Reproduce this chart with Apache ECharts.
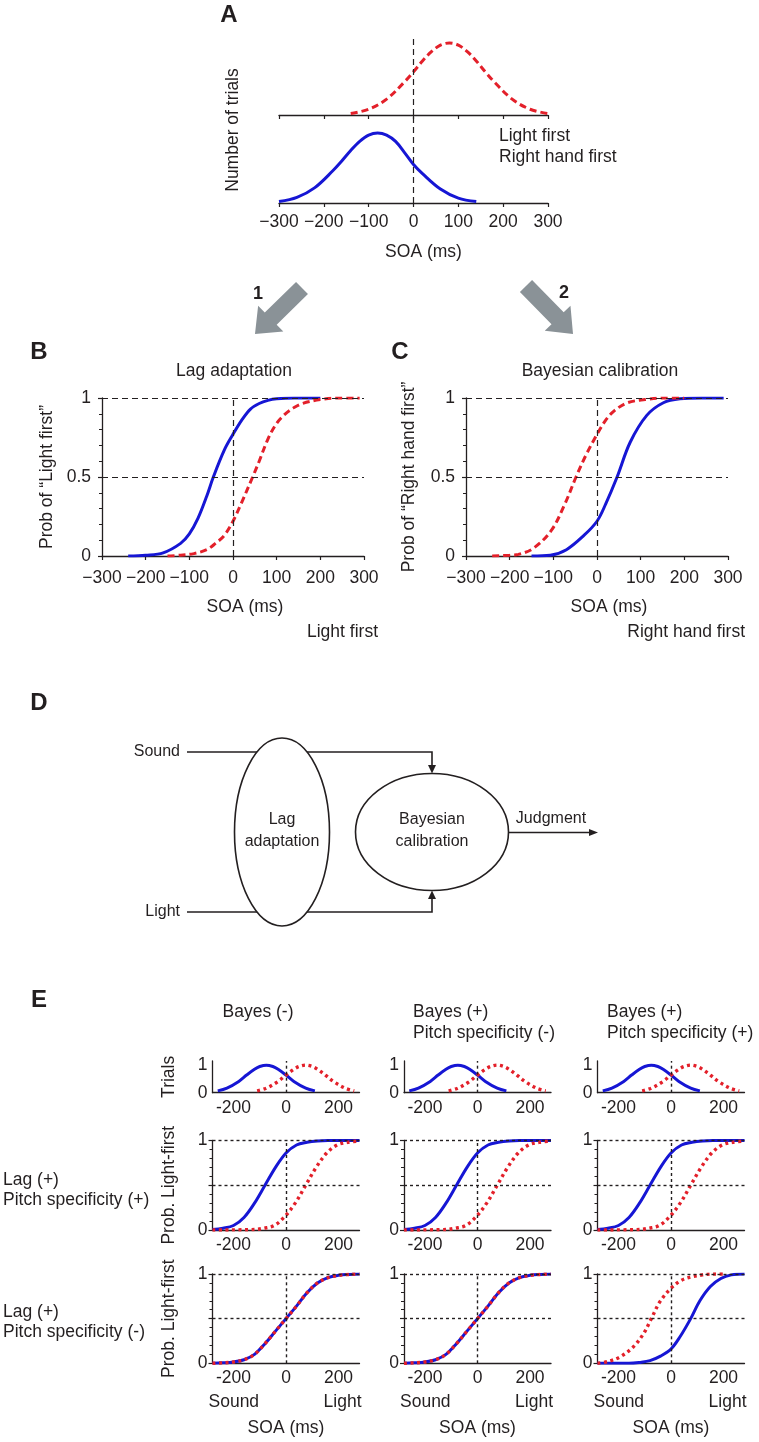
<!DOCTYPE html>
<html lang="en">
<head>
<meta charset="UTF-8">
<title>Lag adaptation vs Bayesian calibration</title>
<script src="https://cdn.jsdelivr.net/npm/echarts@6.0.0/dist/echarts.min.js"></script>
<style>
  html, body { margin: 0; padding: 0; background: #fff; }
  #main { width: 759px; height: 1442px; }
</style>
</head>
<body>
<div id="main"></div>
<script type="text/javascript">
// ---- values (x = SOA in ms, y = normalised value) ----
var soaTicksBig = [-300, -200, -100, 0, 100, 200, 300];
var soaTicksSmall = [-200, 0, 200];
var probTicksSmall = [0, 1];

// A: trial distributions
var distRedA = [[-140,0.02],[-100,0.08],[-60,0.22],[-20,0.46],[0,0.6],[20,0.75],[40,0.88],[60,0.97],[80,1],[100,0.97],[120,0.88],[140,0.75],[160,0.6],[180,0.46],[220,0.22],[260,0.08],[300,0.02]];
var distBlueA = [[-300,0.02],[-260,0.08],[-220,0.22],[-180,0.46],[-160,0.6],[-140,0.75],[-120,0.88],[-100,0.97],[-80,1],[-60,0.97],[-40,0.88],[-20,0.72],[0,0.55],[20,0.42],[60,0.2],[100,0.07],[140,0.02]];

// B: lag adaptation
var lagBlueB = [[-240,0],[-200,0.005],[-160,0.02],[-120,0.08],[-100,0.14],[-80,0.24],[-60,0.38],[-45,0.5],[-20,0.67],[0,0.77],[20,0.86],[40,0.93],[60,0.965],[80,0.985],[100,0.995],[140,1],[200,1]];
var lagRedB = [[-150,0],[-120,0.005],[-90,0.015],[-60,0.04],[-40,0.08],[-20,0.13],[0,0.22],[20,0.34],[45,0.5],[60,0.6],[80,0.74],[100,0.84],[120,0.9],[140,0.94],[160,0.966],[200,0.99],[240,1],[290,1]];

// C: Bayesian calibration
var bayesRedC = [[-240,0],[-200,0.005],[-180,0.01],[-145,0.05],[-105,0.16],[-75,0.32],[-48,0.5],[-25,0.64],[0,0.77],[20,0.86],[40,0.92],[70,0.97],[110,0.99],[150,1],[200,1]];
var bayesBlueC = [[-150,0],[-107,0.005],[-70,0.04],[-30,0.13],[0,0.22],[20,0.33],[46,0.5],[76,0.72],[114,0.89],[152,0.97],[190,0.995],[240,1],[290,1]];

// E: simulations
var trialsBlueE = [[-260,0.065],[-225,0.165],[-180,0.41],[-150,0.64],[-120,0.85],[-100,0.95],[-75,1],[-50,0.95],[-30,0.85],[0,0.64],[30,0.41],[75,0.165],[110,0.065]];
var trialsRedE = [[-110,0.065],[-75,0.165],[-30,0.41],[0,0.64],[30,0.85],[50,0.95],[75,1],[100,0.95],[120,0.85],[150,0.64],[180,0.41],[225,0.165],[260,0.065]];
var pitchPlusBlue = [[-280,0.005],[-240,0.02],[-200,0.05],[-160,0.14],[-120,0.3],[-80,0.5],[-40,0.7],[0,0.86],[40,0.95],[80,0.98],[120,0.995],[160,1],[280,1]];
var pitchPlusRed = [[-280,0],[-120,0.005],[-85,0.02],[-45,0.05],[-5,0.15],[35,0.3],[75,0.5],[115,0.7],[155,0.86],[195,0.95],[235,0.98],[280,0.995]];
var pitchMinusBoth = [[-280,0],[-240,0.005],[-200,0.015],[-160,0.04],[-120,0.1],[-80,0.22],[-40,0.36],[0,0.5],[40,0.64],[80,0.79],[120,0.9],[160,0.96],[200,0.985],[240,0.995],[280,1]];
var bayesPitchRed = [[-280,0],[-240,0.02],[-195,0.07],[-145,0.18],[-105,0.33],[-75,0.5],[-42,0.69],[0,0.84],[40,0.93],[80,0.97],[120,0.99],[160,1],[200,1]];
var bayesPitchBlue = [[-280,0],[-160,0],[-120,0.01],[-80,0.03],[-40,0.08],[0,0.16],[35,0.3],[75,0.5],[110,0.7],[150,0.86],[190,0.95],[230,0.99],[280,1]];

var FONT = 'Liberation Sans, Arial, Helvetica, sans-serif';
var INK = '#231f20';
var BLUE = '#1616d4';
var RED = '#e3202a';

var grids = [], xAxes = [], yAxes = [], series = [], graphics = [];

function minus(v) { return v < 0 ? '\u2212' + Math.abs(v) : String(v); }

function panel(c) {
    var i = grids.length;
    grids.push({ left: c.left, top: c.top, width: c.width, height: c.height, outerBoundsMode: 'none' });
    xAxes.push({
        type: 'value', gridIndex: i, min: c.xmin, max: c.xmax, interval: c.xint,
        axisLine: { show: true, onZero: false, lineStyle: { color: INK, width: 1.3 } },
        axisTick: { show: c.xTick !== false, length: 4, lineStyle: { color: INK, width: 1.2 } },
        axisLabel: {
            show: c.xLabel !== false, color: INK, fontSize: c.fs, fontFamily: FONT, margin: c.xMargin,
            customValues: c.xLabels, formatter: c.xFmt || minus, hideOverlap: false
        },
        splitLine: { show: false },
        name: c.xName || '', nameLocation: 'middle', nameGap: c.xNameGap,
        nameTextStyle: { color: INK, fontSize: c.fs, fontFamily: FONT, padding: c.xNamePad || 0 }
    });
    yAxes.push({
        type: 'value', gridIndex: i, min: c.ymin, max: c.ymax, interval: c.yint, show: c.yShow !== false,
        axisLine: { show: true, onZero: false, lineStyle: { color: INK, width: 1.3 } },
        axisTick: { show: c.yTick !== false, length: 4, lineStyle: { color: INK, width: 1.2 } },
        minorTick: { show: !!c.yMinor, splitNumber: 5, length: 3, lineStyle: { color: INK, width: 1 } },
        axisLabel: {
            show: true, color: INK, fontSize: c.fs, fontFamily: FONT, margin: c.yMargin,
            customValues: c.yLabels
        },
        splitLine: { show: false },
        name: c.yName || '', nameLocation: 'middle', nameGap: c.yNameGap, nameRotate: 90,
        nameTextStyle: { color: INK, fontSize: c.fs, fontFamily: FONT }
    });
    return i;
}

function refs(gi, ys, xs, dash, w) {
    var d = [];
    ys.forEach(function (v) { d.push({ yAxis: v }); });
    xs.forEach(function (v) { d.push({ xAxis: v }); });
    series.push({
        type: 'line', xAxisIndex: gi, yAxisIndex: gi, data: [], z: 1, silent: true,
        markLine: {
            silent: true, symbol: ['none', 'none'], label: { show: false }, animation: false,
            lineStyle: { color: INK, width: w || 1.2, type: dash }, emphasis: { disabled: true },
            data: d
        }
    });
}

function curve(gi, data, color, dash, w) {
    series.push({
        type: 'line', xAxisIndex: gi, yAxisIndex: gi, data: data, symbol: 'none', showSymbol: false,
        smooth: 0.35, silent: true, z: color === RED ? 4 : 3,
        lineStyle: { color: color, width: w || 3, type: dash, cap: 'butt' }
    });
}

function text(x, y, s, o) {
    o = o || {};
    graphics.push({
        type: 'text', x: x, y: y, rotation: o.rot || 0, z: 10, silent: true,
        style: {
            text: s, fill: INK, fontSize: o.fs || 17.5, fontFamily: FONT, fontWeight: o.bold ? 'bold' : 'normal',
            align: o.align || 'left', verticalAlign: 'middle'
        }
    });
}

// ---------- Panel A ----------
var a1 = panel({ left: 279, top: 37, width: 269, height: 78, xmin: -300, xmax: 300, xint: 100, xLabel: false,
    ymin: 0, ymax: 1.083, yShow: false, fs: 17.5 });
var a2 = panel({ left: 279, top: 115, width: 269, height: 88, xmin: -300, xmax: 300, xint: 100, xMargin: 10,
    xName: 'SOA (ms)', xNameGap: 40, xNamePad: [0, 0, 0, 20],
    ymin: 0, ymax: 1.257, yShow: false, fs: 17.5 });
refs(a1, [], [0], [6, 4]);
refs(a2, [], [0], [6, 4]);
curve(a1, distRedA, RED, [7, 4]);
curve(a2, distBlueA, BLUE, 'solid');

// ---------- Panel B ----------
var b = panel({ left: 102, top: 398, width: 262, height: 158, xmin: -300, xmax: 300, xint: 100, xMargin: 13,
    xName: 'SOA (ms)', xNameGap: 42, xNamePad: [0, 0, 0, 24],
    ymin: 0, ymax: 1, yint: 0.5, yMinor: true, yMargin: 11,
    yName: 'Prob of \u201cLight first\u201d', yNameGap: 46, fs: 17.5 });
refs(b, [1, 0.5], [0], [6, 4]);
curve(b, lagBlueB, BLUE, 'solid');
curve(b, lagRedB, RED, [7, 4]);

// ---------- Panel C ----------
var cc = panel({ left: 466, top: 398, width: 262, height: 158, xmin: -300, xmax: 300, xint: 100, xMargin: 13,
    xName: 'SOA (ms)', xNameGap: 42, xNamePad: [0, 0, 0, 24],
    ymin: 0, ymax: 1, yint: 0.5, yMinor: true, yMargin: 11,
    yName: 'Prob of \u201cRight hand first\u201d', yNameGap: 48, fs: 17.5 });
refs(cc, [1, 0.5], [0], [6, 4]);
curve(cc, bayesBlueC, BLUE, 'solid');
curve(cc, bayesRedC, RED, [7, 4]);

// ---------- Panel E ----------
var colLeft = [212.5, 404, 597.5];
var rowTop = [1061, 1140.5, 1274];
var rowH = [31.7, 89.5, 89.3];
var rowCurves = [
    [[trialsBlueE, trialsRedE], [trialsBlueE, trialsRedE], [trialsBlueE, trialsRedE]],
    [[pitchPlusBlue, pitchPlusRed], [pitchPlusBlue, pitchPlusRed], [pitchPlusBlue, pitchPlusRed]],
    [[pitchMinusBoth, pitchMinusBoth], [pitchMinusBoth, pitchMinusBoth], [bayesPitchBlue, bayesPitchRed]]
];
for (var r = 0; r < 3; r++) {
    for (var k = 0; k < 3; k++) {
        var cfg = {
            left: colLeft[k], top: rowTop[r], width: 147, height: rowH[r],
            xmin: -280, xmax: 280, xTick: false, xLabels: soaTicksSmall, xMargin: 6,
            xFmt: function (v) { return String(v); },
            ymin: 0, ymax: r === 0 ? 1.15 : 1, yint: r === 0 ? 1 : 0.5, yLabels: probTicksSmall,
            yTick: r !== 0, yMinor: r !== 0, yMargin: 5, fs: 17.5
        };
        if (k === 0) { cfg.yName = r === 0 ? 'Trials' : 'Prob. Light-first'; cfg.yNameGap = 34; }
        if (r === 2) { cfg.xName = 'SOA (ms)'; cfg.xNameGap = 56; }
        var g = panel(cfg);
        refs(g, r === 0 ? [] : [1, 0.5], [0], [3, 3], 1.4);
        curve(g, rowCurves[r][k][0], BLUE, 'solid', 3);
        curve(g, rowCurves[r][k][1], RED, [3, 3.5], 3.4);
    }
}

// ---------- free text ----------
text(229, 15, 'A', { bold: true, fs: 24, align: 'center' });
text(233, 130, 'Number of trials', { rot: Math.PI / 2, align: 'center' });
text(499, 136, 'Light first');
text(499, 157, 'Right hand first');
text(258, 294, '1', { bold: true, fs: 18, align: 'center' });
text(564, 293, '2', { bold: true, fs: 18, align: 'center' });
text(39, 352, 'B', { bold: true, fs: 24, align: 'center' });
text(400, 352, 'C', { bold: true, fs: 24, align: 'center' });
text(234, 371, 'Lag adaptation', { align: 'center' });
text(600, 371, 'Bayesian calibration', { align: 'center' });
text(378, 632, 'Light first', { align: 'right' });
text(745, 632, 'Right hand first', { align: 'right' });

text(39, 703, 'D', { bold: true, fs: 24, align: 'center' });
text(180, 752, 'Sound', { fs: 16, align: 'right' });
text(180, 912, 'Light', { fs: 16, align: 'right' });
text(282, 820, 'Lag', { fs: 16, align: 'center' });
text(282, 842, 'adaptation', { fs: 16, align: 'center' });
text(432, 820, 'Bayesian', { fs: 16, align: 'center' });
text(432, 842, 'calibration', { fs: 16, align: 'center' });
text(551, 819, 'Judgment', { fs: 16, align: 'center' });

text(39, 1000, 'E', { bold: true, fs: 24, align: 'center' });
text(258, 1012, 'Bayes (-)', { align: 'center' });
text(413, 1012, 'Bayes (+)');
text(413, 1033, 'Pitch specificity (-)');
text(607, 1012, 'Bayes (+)');
text(607, 1033, 'Pitch specificity (+)');
text(3, 1180, 'Lag (+)');
text(3, 1200, 'Pitch specificity (+)');
text(3, 1312, 'Lag (+)');
text(3, 1332, 'Pitch specificity (-)');
colLeft.forEach(function (l) {
    text(l - 4, 1402, 'Sound');
    text(l + 149, 1402, 'Light', { align: 'right' });
});

// ---------- gray arrows between A and B/C ----------
function bigArrow(tail, tip) {
    var dx = tip[0] - tail[0], dy = tip[1] - tail[1];
    var len = Math.sqrt(dx * dx + dy * dy), ux = dx / len, uy = dy / len, nx = -uy, ny = ux;
    var sw = 8.5, hw = 18, hl = 22;
    var bx = tip[0] - ux * hl, by = tip[1] - uy * hl;
    graphics.push({
        type: 'polygon', z: 5, silent: true,
        shape: { points: [
            [tail[0] + nx * sw, tail[1] + ny * sw], [bx + nx * sw, by + ny * sw], [bx + nx * hw, by + ny * hw],
            tip, [bx - nx * hw, by - ny * hw], [bx - nx * sw, by - ny * sw], [tail[0] - nx * sw, tail[1] - ny * sw]
        ] },
        style: { fill: '#8a9297' }
    });
}
bigArrow([302, 288], [255, 334]);
bigArrow([526, 286], [573, 334]);

// ---------- diagram D ----------
var lineStyleD = { stroke: INK, lineWidth: 1.6, fill: null };
graphics.push({ type: 'polyline', z: 5, silent: true, shape: { points: [[187, 752], [432, 752], [432, 767]] }, style: lineStyleD });
graphics.push({ type: 'polyline', z: 5, silent: true, shape: { points: [[187, 912], [432, 912], [432, 897]] }, style: lineStyleD });
graphics.push({ type: 'line', z: 5, silent: true, shape: { x1: 508, y1: 832.5, x2: 591, y2: 832.5 }, style: lineStyleD });
graphics.push({ type: 'polygon', z: 5, silent: true, shape: { points: [[428, 765], [436, 765], [432, 773.5]] }, style: { fill: INK } });
graphics.push({ type: 'polygon', z: 5, silent: true, shape: { points: [[428, 899], [436, 899], [432, 890.5]] }, style: { fill: INK } });
graphics.push({ type: 'polygon', z: 5, silent: true, shape: { points: [[589, 829], [589, 836], [598, 832.5]] }, style: { fill: INK } });
graphics.push({ type: 'ellipse', z: 6, silent: true, shape: { cx: 282, cy: 832, rx: 47.5, ry: 94 }, style: { fill: '#fff', stroke: INK, lineWidth: 1.6 } });
graphics.push({ type: 'ellipse', z: 6, silent: true, shape: { cx: 432, cy: 832, rx: 76.5, ry: 58.5 }, style: { fill: '#fff', stroke: INK, lineWidth: 1.6 } });

var chart = echarts.init(document.getElementById('main'));
chart.setOption({
    animation: false,
    backgroundColor: '#fff',
    grid: grids,
    xAxis: xAxes,
    yAxis: yAxes,
    series: series,
    graphic: graphics
});
window.onresize = chart.resize;
</script>
</body>
</html>
